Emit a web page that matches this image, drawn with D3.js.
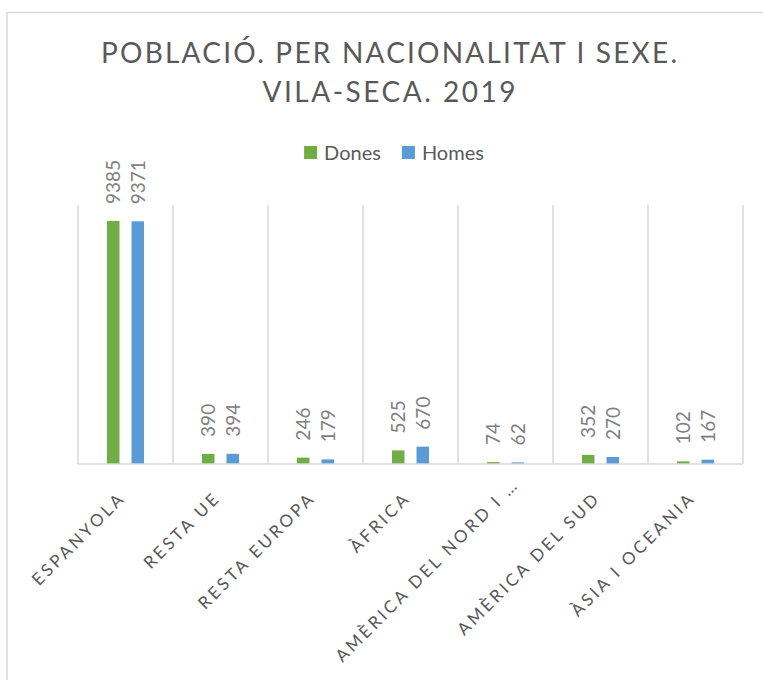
<!DOCTYPE html>
<html>
<head>
<meta charset="utf-8">
<script src="https://cdn.jsdelivr.net/npm/d3@7"></script>
<style>
  body { margin: 0; background: #fff; }
  text { font-family: Lato, "Open Sans", sans-serif; }
</style>
</head>
<body>
<svg id="chart"></svg>
<script>
// data
const categories = ['ESPANYOLA', 'RESTA UE', 'RESTA EUROPA', 'ÀFRICA', 'AMÈRICA DEL NORD I …', 'AMÈRICA DEL SUD', 'ÀSIA I OCEANIA'];
const series = ['Dones', 'Homes'];
const dones = [9385, 390, 246, 525, 74, 352, 102];
const homes = [9371, 394, 179, 670, 62, 270, 167];
const titleLines = ['POBLACIÓ. PER NACIONALITAT I SEXE.', 'VILA-SECA. 2019'];

const colors = { Dones: '#70ad47', Homes: '#5b9bd5' };

// constants
const width = 763;
const height = 680;
const margin = { left: 78, right: 20, top: 205, bottom: 216 };
const visWidth = width - margin.left - margin.right;
const visHeight = height - margin.top - margin.bottom;

const svg = d3.select('#chart')
  .attr('width', width)
  .attr('height', height);

// chart frame (runs off the right and bottom edge)
svg.append('rect')
  .attr('x', 7)
  .attr('y', 12.5)
  .attr('width', 800)
  .attr('height', 700)
  .attr('fill', 'none')
  .attr('stroke', '#d9d9d9')
  .attr('stroke-width', 1.5);

// title
svg.append('text')
  .attr('text-anchor', 'middle')
  .attr('fill', '#595959')
  .attr('font-size', '28px')
  .selectAll('tspan')
  .data(titleLines)
  .enter().append('tspan')
  .attr('x', 389)
  .attr('y', (d, i) => 63 + i * 39)
  .attr('textLength', (d, i) => i === 0 ? 576 : 253)
  .attr('lengthAdjust', 'spacing')
  .text(d => d);

const chart = svg.append('g')
  .attr('transform', 'translate(' + margin.left + ',' + margin.top + ')');

const table = categories.map((c, i) => ({ cat: c, Dones: dones[i], Homes: homes[i] }));

const x = d3.scaleBand()
  .domain(categories)
  .range([0, visWidth]);

const xInner = d3.scaleBand()
  .domain(series)
  .range([x.bandwidth() * 0.305, x.bandwidth() * 0.695])
  .paddingInner(0.49);

const y = d3.scaleLinear()
  .domain([0, 10000])
  .range([visHeight, 0]);

// vertical separators
const seps = categories.map(c => x(c)).concat([x.range()[1]]);
chart.selectAll('.sep')
  .data(seps)
  .enter().append('line')
  .attr('class', 'sep')
  .attr('x1', d => d)
  .attr('x2', d => d)
  .attr('y1', y(10000))
  .attr('y2', y(0))
  .attr('stroke', '#d9d9d9')
  .attr('stroke-width', 1.5);

// bars
const groups = chart.selectAll('.grp')
  .data(table)
  .enter().append('g')
  .attr('class', 'grp')
  .attr('transform', d => `translate(${x(d.cat)},0)`);

const cells = groups.selectAll('.cell')
  .data(d => series.map(s => ({ key: s, value: d[s] })))
  .enter().append('g')
  .attr('class', 'cell');

cells.append('rect')
  .attr('x', d => xInner(d.key))
  .attr('y', d => y(d.value))
  .attr('width', xInner.bandwidth())
  .attr('height', d => y(0) - y(d.value))
  .attr('fill', d => colors[d.key]);

cells.append('text')
  .attr('transform', d => `translate(${xInner(d.key) + xInner.bandwidth() / 2},${y(d.value) - 17}) rotate(-90)`)
  .attr('dy', '0.36em')
  .attr('fill', '#808080')
  .attr('font-size', '19px')
  .text(d => d.value);

// baseline
chart.append('line')
  .attr('x1', 0)
  .attr('x2', visWidth)
  .attr('y1', y(0))
  .attr('y2', y(0))
  .attr('stroke', '#d9d9d9')
  .attr('stroke-width', 1.5);

// category labels (the truncated one sits a little further along, as in Excel)
chart.selectAll('.xlab')
  .data(categories)
  .enter().append('text')
  .attr('class', 'xlab')
  .attr('transform', d => `translate(${x(d) + x.bandwidth() / 2 + 1},${y(0) + 35}) rotate(-45)`)
  .attr('dx', d => d.endsWith('…') ? 19 : 0)
  .attr('text-anchor', 'end')
  .attr('fill', '#595959')
  .attr('font-size', '17px')
  .attr('letter-spacing', '3px')
  .text(d => d);

// legend
const legend = svg.append('g');
let lx = 0;
series.forEach((s, i) => {
  const item = legend.append('g').attr('transform', `translate(${lx},0)`);
  item.append('rect')
    .attr('x', 0)
    .attr('y', 146)
    .attr('width', 13)
    .attr('height', 13)
    .attr('fill', colors[s]);
  const t = item.append('text')
    .attr('x', 20)
    .attr('y', 160)
    .attr('fill', '#595959')
    .attr('font-size', '20px')
    .text(s);
  lx += 20 + t.node().getComputedTextLength() + 21;
});
const lw = lx - 21;
legend.attr('transform', `translate(${394 - lw / 2},0)`);
</script>
</body>
</html>
